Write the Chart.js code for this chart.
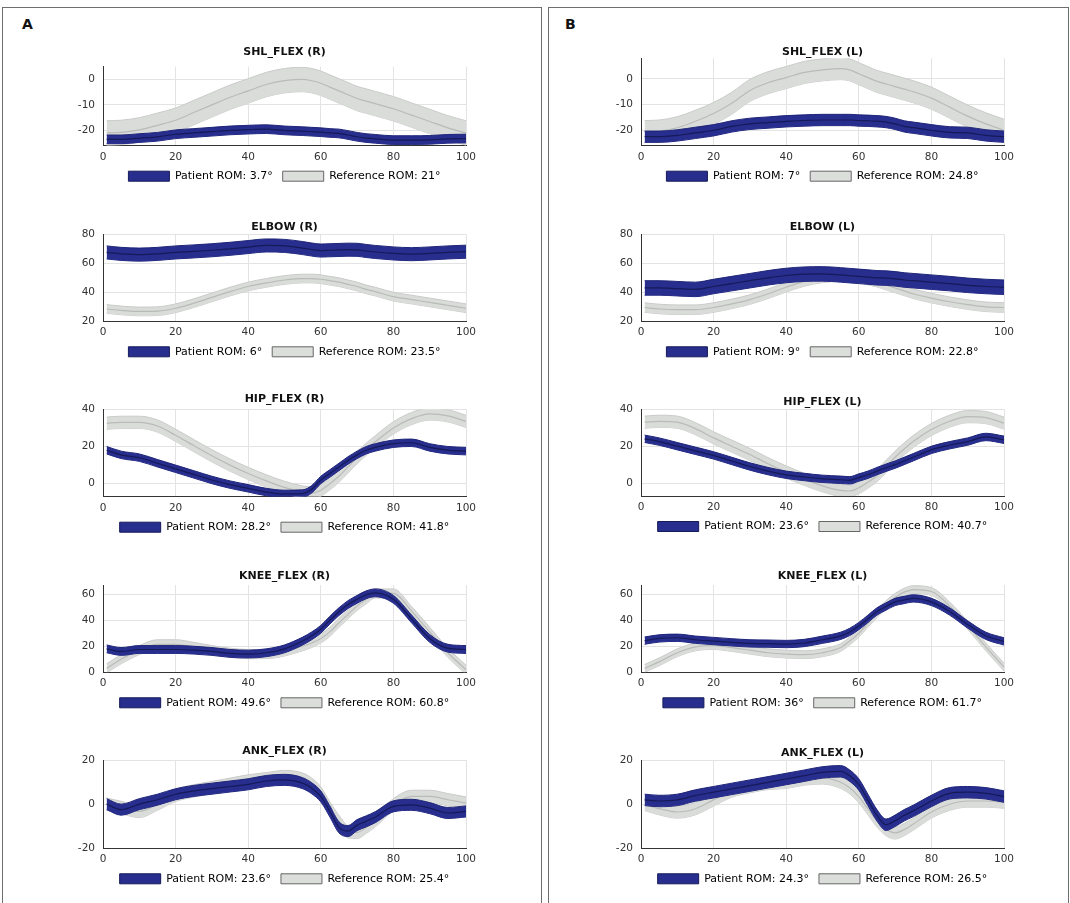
<!DOCTYPE html>
<html>
<head>
<meta charset="utf-8">
<title>Joint angle curves</title>
<script src="https://cdn.jsdelivr.net/npm/chart.js@4.4.1/dist/chart.umd.min.js"></script>
<style>
  body { margin: 0; background: #fff; }
  #page { position: relative; width: 1070px; height: 903px; overflow: hidden; background: #fff; font-family: "DejaVu Sans", sans-serif; }
  .panel { position: absolute; top: 7px; height: 920px; border: 1.5px solid #6e6e6e; box-sizing: border-box; }
  .tag { position: absolute; top: 16px; font: bold 14px "DejaVu Sans", sans-serif; color: #111; line-height: 1.2; }
  canvas { position: absolute; }
</style>
</head>
<body>
<div id="page">
  <div class="panel" style="left:2px;width:540px"></div>
  <div class="panel" style="left:548px;width:521px"></div>
  <div class="tag" style="left:22px">A</div>
  <div class="tag" style="left:565px">B</div>
</div>
<script>
// % of gait cycle
const pct = [1, 5, 10, 15, 20, 25, 30, 35, 40, 45, 50, 55, 57.5, 60, 62.5, 65, 67.5, 70, 72.5, 75, 80, 85, 90, 95, 100];

// panel A - right side (mean curves)
const shlRRef = [-21, -20.8, -19.8, -18, -16, -13, -10, -7, -4.5, -2, -0.5, 0, -0.5, -1.5, -3, -4.5, -6, -7.5, -8.5, -9.5, -11.5, -14, -16.5, -19, -21];
const shlRPat = [-23.5, -23.5, -23, -22.5, -21.5, -21, -20.5, -20, -19.7, -19.5, -20, -20.3, -20.5, -20.7, -21, -21.2, -21.8, -22.5, -23, -23.3, -23.8, -23.8, -23.7, -23.3, -23.2];
const elbRRef = [28.5, 27.5, 26.8, 27, 29, 32.5, 36.5, 40.5, 44, 46.5, 48.5, 49.5, 49.5, 49, 48, 47, 45.5, 44, 42, 40.5, 37, 35, 33, 31, 29];
const elbRPat = [67.5, 66.5, 66, 66.5, 67.5, 68.2, 69, 70, 71.2, 72.3, 72, 70.5, 69.5, 68.8, 69, 69.2, 69.4, 69.3, 68.5, 67.8, 66.8, 66.3, 66.8, 67.5, 68];
const hipRRef = [32.5, 33, 33, 31, 26, 20.5, 15, 10, 5.5, 1.5, -2, -4.5, -5, -3.5, 0, 4, 9, 14, 18.5, 22.5, 30, 35, 37.5, 36.5, 33.5];
const hipRPat = [18, 15.5, 14, 11, 8, 5, 2, -0.5, -2.5, -4.5, -5.5, -5.3, -3, 2, 5.5, 9, 12.5, 15.5, 18, 19.5, 21.5, 22, 19.5, 18, 17.5];
const kneRRef = [3, 10, 17, 21.5, 21.5, 19.5, 17, 15, 14, 14, 16, 20, 22.5, 26, 31, 38, 44.5, 51, 56, 60.5, 60.5, 47, 31, 15, 2];
const kneRPat = [18, 16, 17.5, 17.5, 17.5, 17, 16, 14.5, 14, 15, 18, 24, 28, 33, 40, 46.5, 52, 56, 59.5, 61, 56, 41, 26, 18.5, 17.5];
const ankRRef = [0, -1.5, -3.3, 0, 4, 6, 7.5, 9, 10.5, 11.5, 12.5, 11.3, 9, 5, -1.8, -7.8, -12.5, -12.8, -10.5, -7.5, -0.3, 3.5, 3.5, 2, 0.5];
const ankRPat = [0, -2.5, 0, 2, 4.5, 6, 7, 8, 9, 10.5, 11, 9.5, 7.2, 3.5, -3.3, -10.5, -12.2, -9.5, -7.8, -5.9, -1, -0.3, -1.8, -4, -3.3];

// panel B - left side
const shlLRef = [-20.5, -20.3, -19, -16.5, -13.5, -9.5, -4.5, -1.5, 0.5, 2.5, 3.5, 4, 3.5, 2, 0.5, -1, -2, -3, -4, -5, -7.5, -11, -14.5, -17.5, -20];
const shlLPat = [-22.5, -22.5, -22, -21, -20, -18.5, -17.5, -17, -16.5, -16.2, -16, -16, -16, -16.2, -16.3, -16.5, -16.8, -17.5, -18.5, -19, -20, -20.8, -21, -22, -22.5];
const elbLRef = [29.5, 28.5, 28, 28, 29.5, 32, 35, 39, 43.5, 47.5, 50, 50.8, 50.7, 50, 48.5, 47, 45, 43, 41, 39, 36, 33.5, 31.5, 30, 29.5];
const elbLPat = [43, 43, 42.5, 42, 44, 46, 48, 50, 51.6, 52.5, 52.7, 52, 51.5, 51, 50.5, 50, 49.8, 49.3, 48.5, 48, 47, 46, 44.8, 44, 43.5];
const hipLRef = [33, 33.5, 33, 29.5, 24.5, 20, 15.5, 10.5, 6, 2, -1.5, -4, -4.3, -2.5, 0.5, 4, 9, 14, 18.5, 22.5, 29, 33.5, 36, 35.5, 32.5];
const hipLPat = [24, 22.5, 20, 17.5, 15, 12, 9, 6.5, 4.5, 3.3, 2.3, 1.8, 1.5, 3, 4.5, 6.5, 8.3, 10, 12, 14, 18, 20.5, 22.5, 25, 23.5];
const kneLRef = [3, 8, 15, 19.5, 20.5, 19, 17, 15, 14, 13.5, 15, 19, 24, 30, 37.5, 45, 52, 57.5, 61.5, 63.5, 62, 51, 36, 19.5, 4];
const kneLPat = [24.3, 26, 26.5, 25, 24, 23, 22.2, 22, 21.7, 22.5, 25, 28, 31, 35.5, 41, 46.7, 50.5, 54, 55.5, 56.7, 54, 46.7, 36.7, 28, 23.7];
const ankLRef = [0, -2, -3.5, -2, 2, 6, 8, 9.5, 10, 11.5, 12, 10, 7.5, 3.5, -2, -7.5, -11.5, -13, -11.5, -9, -3.5, 0, 1.5, 1.5, 1];
const ankLPat = [2, 1.5, 2, 4, 5.5, 7, 8.5, 10, 11.5, 13, 14.5, 15, 13, 9, 2, -5, -9.3, -7.5, -5, -3, 1.5, 5, 5.5, 5, 3.5];

// band half widths (sd)
const refSpread = [4.8, 3, 3.3, 3.5, 2.8, 4.3, 3.3, 3.3, 3, 2.8];
const patSpread = [1.7, 4.5, 2, 3, 2.5, 2.2, 5, 2, 2.8, 2.6];

const titles = ['SHL_FLEX (R)', 'ELBOW (R)', 'HIP_FLEX (R)', 'KNEE_FLEX (R)', 'ANK_FLEX (R)',
                'SHL_FLEX (L)', 'ELBOW (L)', 'HIP_FLEX (L)', 'KNEE_FLEX (L)', 'ANK_FLEX (L)'];
const patientRom = ['3.7°', '6°', '28.2°', '49.6°', '23.6°', '7°', '9°', '23.6°', '36°', '24.3°'];
const referenceRom = ['21°', '23.5°', '41.8°', '60.8°', '25.4°', '24.8°', '22.8°', '40.7°', '61.7°', '26.5°'];
const yMin = [-26, 20, -7, 0, -20, -26, 20, -7, 0, -20];
const yMax = [5, 80, 40, 67, 20, 8, 80, 40, 67, 20];
const yStep = [10, 20, 20, 20, 20, 10, 20, 20, 20, 20];

const refSeries = [shlRRef, elbRRef, hipRRef, kneRRef, ankRRef, shlLRef, elbLRef, hipLRef, kneLRef, ankLRef];
const patSeries = [shlRPat, elbRPat, hipRPat, kneRPat, ankRPat, shlLPat, elbLPat, hipLPat, kneLPat, ankLPat];

// page geometry of the plot boxes
const plotLefts = [103, 641];
const plotWidth = 363;
const titleYs = [[53, 226.7, 400, 576.7, 752], [53, 226.7, 402, 576.7, 752.7]];
const plotTops = [[66.7, 233.3, 409.3, 585, 760], [57.2, 233.3, 409, 585, 760]];
const plotBottoms = [[145.7, 321.3, 496.7, 672.3, 848.3], [145.7, 321.3, 496, 672.3, 848.3]];

const FONT = 'DejaVu Sans';
const AXIS_W = 43, XAXIS_H = 15, LEGEND_H = 31, TITLE_LH = 13.2, PAD_R = 20;

function pts(arr, off) {
    return pct.map((x, i) => ({ x: x, y: arr[i] + off }));
}

function line(data, extra) {
    return Object.assign({ data: data, pointRadius: 0, borderWidth: 1, fill: false, cubicInterpolationMode: 'monotone' }, extra);
}

function drawPlot(k) {
    const side = k < 5 ? 0 : 1;
    const row = k % 5;
    const top = plotTops[side][row], bottom = plotBottoms[side][row];
    let cTop = Math.round(titleYs[side][row] - TITLE_LH / 2);
    if (top - cTop - TITLE_LH < 0) cTop = Math.floor(top - TITLE_LH);
    const gap = top - cTop - TITLE_LH;
    const H = Math.ceil(bottom - cTop + XAXIS_H + LEGEND_H);
    const extra = H - (bottom - cTop + XAXIS_H + LEGEND_H);
    const W = AXIS_W + plotWidth + PAD_R;

    const cv = document.createElement('canvas');
    cv.width = W; cv.height = H;
    cv.style.left = (plotLefts[side] - AXIS_W) + 'px';
    cv.style.top = cTop + 'px';
    document.getElementById('page').appendChild(cv);

    const ref = refSeries[k], pat = patSeries[k];
    const rs = refSpread[k], ps = patSpread[k];
    const tickFont = { family: FONT, size: 10.5 };
    const grid = { color: '#e3e3e3', drawTicks: false };
    const border = { color: '#333', width: 1 };

    new Chart(cv, {
        type: 'line',
        data: {
            datasets: [
                line(pts(pat, 0), { borderColor: '#151a58', borderWidth: 1.2 }),
                line(pts(pat, ps), { borderColor: '#1f2578', backgroundColor: '#272e8e', fill: '+1' }),
                line(pts(pat, -ps), { borderColor: '#1f2578' }),
                line(pts(ref, 0), { borderColor: '#b8bbb8', borderWidth: 1.2 }),
                line(pts(ref, rs), { borderColor: '#c9cbc9', backgroundColor: '#dadcda', fill: '+1' }),
                line(pts(ref, -rs), { borderColor: '#c9cbc9' })
            ]
        },
        options: {
            responsive: false,
            animation: false,
            devicePixelRatio: 1,
            events: [],
            layout: { padding: { left: 0, right: PAD_R, top: 0, bottom: extra } },
            plugins: {
                title: {
                    display: true, text: titles[k], fullSize: false, color: '#111',
                    font: { family: FONT, size: 11, weight: 'bold', lineHeight: 1.2 },
                    padding: { top: 0, bottom: gap }
                },
                legend: {
                    position: 'bottom', fullSize: false,
                    labels: {
                        boxWidth: 41, boxHeight: 10, padding: 10, color: '#333',
                        font: { family: FONT, size: 11 },
                        generateLabels: () => [
                            { text: 'Patient ROM: ' + patientRom[k], fillStyle: '#272e8e', strokeStyle: '#151a58', lineWidth: 1, hidden: false },
                            { text: 'Reference ROM: ' + referenceRom[k], fillStyle: '#dcdedc', strokeStyle: '#666', lineWidth: 1, hidden: false }
                        ]
                    }
                },
                tooltip: { enabled: false }
            },
            scales: {
                x: {
                    type: 'linear', min: 0, max: 100,
                    ticks: { stepSize: 20, padding: 5, color: '#333', font: tickFont },
                    grid: grid, border: border,
                    afterFit: s => { s.height = XAXIS_H; }
                },
                y: {
                    min: yMin[k], max: yMax[k],
                    ticks: { stepSize: yStep[k], includeBounds: false, padding: 8, color: '#333', font: tickFont },
                    grid: grid, border: border,
                    afterFit: s => { s.width = AXIS_W; }
                }
            }
        }
    });
}

for (let k = 0; k < 10; k++) drawPlot(k);
</script>
</body>
</html>
